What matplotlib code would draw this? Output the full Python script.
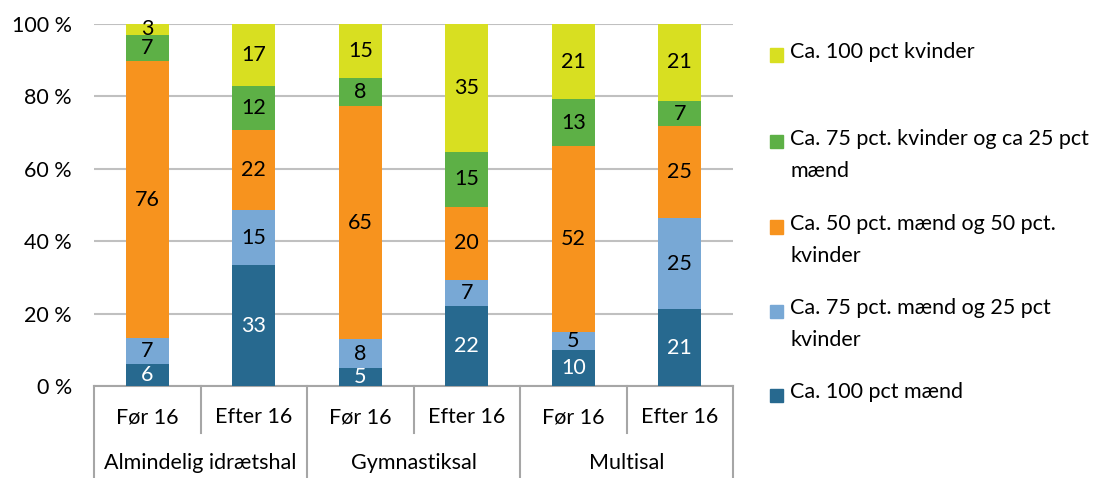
import numpy as np
import matplotlib.pyplot as plt
from matplotlib.patches import Rectangle

plt.rcParams['font.family'] = ['Lato', 'DejaVu Sans']

# Data (procent, afrundet)
kategorier = ['Før 16', 'Efter 16', 'Før 16', 'Efter 16', 'Før 16', 'Efter 16']
grupper = ['Almindelig idrætshal', 'Gymnastiksal', 'Multisal']
serier = ['Ca. 100 pct mænd',
          'Ca. 75 pct. mænd og 25 pct\nkvinder',
          'Ca. 50 pct. mænd og 50 pct.\nkvinder',
          'Ca. 75 pct. kvinder og ca 25 pct\nmænd',
          'Ca. 100 pct kvinder']
maend100 = [6, 33, 5, 22, 10, 21]
maend75 = [7, 15, 8, 7, 5, 25]
halvt = [76, 22, 65, 20, 52, 25]
kvinder75 = [7, 12, 8, 15, 13, 7]
kvinder100 = [3, 17, 15, 35, 21, 21]

farver = ['#27698F', '#78A8D5', '#F7931E', '#5DB046', '#D8DF21']
tekstfarver = ['white', 'black', 'black', 'black', 'black']
fs = 15.5

data = np.array([maend100, maend75, halvt, kvinder75, kvinder100], dtype=float)
andel = data / data.sum(axis=0) * 100

fig = plt.figure(figsize=(11, 4.78), dpi=100)
ax = fig.add_axes([94 / 1100, 92 / 478, 639 / 1100, 362 / 478])

x = np.arange(len(kategorier))
bund = np.zeros(len(kategorier))
for i in range(len(serier)):
    ax.bar(x, andel[i], 0.4, bottom=bund, color=farver[i], zorder=3)
    for j in range(len(x)):
        ax.text(x[j], bund[j] + andel[i][j] / 2, f'{int(data[i][j])}',
                ha='center', va='center', fontsize=fs,
                color=tekstfarver[i], zorder=4)
    bund += andel[i]

ax.set_xlim(-0.5, len(kategorier) - 0.5)
ax.set_ylim(0, 100)
ax.set_yticks([0, 20, 40, 60, 80, 100])
ax.set_yticklabels([f'{v} %' for v in [0, 20, 40, 60, 80, 100]], fontsize=fs)
ax.tick_params(axis='y', length=0, pad=16)
ax.set_xticks([])
ax.grid(axis='y', color='#C0C0C0', linewidth=1.5, zorder=0)
for s in ['left', 'right', 'top']:
    ax.spines[s].set_visible(False)
ax.spines['bottom'].set_color('#A6A6A6')
ax.spines['bottom'].set_linewidth(1.5)

# Kategoriakse i to niveauer under plottet
tr = ax.get_xaxis_transform()
for j, k in enumerate(kategorier):
    ax.text(x[j], -0.086, k, transform=tr, ha='center', va='center', fontsize=fs)
for g, navn in enumerate(grupper):
    ax.text(2 * g + 0.5, -0.213, navn, transform=tr, ha='center', va='center',
            fontsize=fs)
for b in np.arange(-0.5, len(kategorier), 1.0):
    lang = (b + 0.5) % 2 == 0
    ax.plot([b, b], [0, -0.254 if lang else -0.13], transform=tr,
            color='#A6A6A6', linewidth=1.5, clip_on=False)

# Forklaring, øverste serie først
ly = [55, 142, 227, 311, 395]
for n, i in enumerate(range(len(serier) - 1, -1, -1)):
    yc = 1 - ly[n] / 478
    fig.patches.append(Rectangle((770 / 1100, yc - 6.5 / 478), 13 / 1100, 13 / 478,
                                 transform=fig.transFigure, color=farver[i]))
    fig.text(790 / 1100, yc + 13 / 478, serier[i], ha='left', va='top',
             fontsize=fs, linespacing=1.75)

fig.savefig('out.png', dpi=100)
